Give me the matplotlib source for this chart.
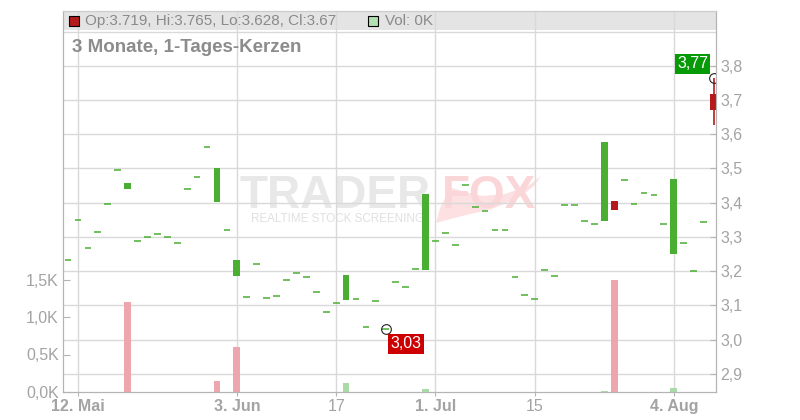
import matplotlib
matplotlib.use("Agg")
import matplotlib.pyplot as plt
from matplotlib.patches import Rectangle, Polygon

plt.rcParams['font.family'] = ['Liberation Sans', 'DejaVu Sans']

# daily candles, 9 May .. 8 Aug (index = trading day)
opens = [3.232, 3.349, 3.267, 3.313, 3.395, 3.495, 3.440, 3.287, 3.299, 3.308,
         3.299, 3.281, 3.439, 3.474, 3.562, 3.403, 3.319, 3.187, 3.123, 3.220,
         3.120, 3.126, 3.173, 3.194, 3.182, 3.138, 3.080, 3.106, 3.116, 3.118,
         3.036, 3.112, 3.030, 3.167, 3.153, 3.205, 3.203, 3.287, 3.311, 3.275,
         3.451, 3.387, 3.375, 3.319, 3.319, 3.182, 3.129, 3.118, 3.202, 3.185,
         3.392, 3.392, 3.346, 3.337, 3.347, 3.406, 3.465, 3.395, 3.427, 3.422,
         3.337, 3.251, 3.281, 3.199, 3.343, 3.719]
closes = [3.232, 3.349, 3.267, 3.313, 3.395, 3.495, 3.457, 3.287, 3.299, 3.308,
          3.299, 3.281, 3.439, 3.474, 3.562, 3.500, 3.319, 3.232, 3.123, 3.220,
          3.120, 3.126, 3.173, 3.194, 3.182, 3.138, 3.080, 3.106, 3.189, 3.118,
          3.036, 3.112, 3.030, 3.167, 3.153, 3.205, 3.425, 3.287, 3.311, 3.275,
          3.451, 3.387, 3.375, 3.319, 3.319, 3.182, 3.129, 3.118, 3.202, 3.185,
          3.392, 3.392, 3.346, 3.337, 3.577, 3.380, 3.465, 3.395, 3.427, 3.422,
          3.337, 3.469, 3.281, 3.199, 3.343, 3.670]
last_high = 3.765
last_low = 3.628
# volume in thousands
volumes = [0, 0, 0, 0, 0, 0, 1.20, 0, 0, 0,
           0, 0, 0, 0, 0, 0.15, 0, 0.60, 0, 0,
           0, 0, 0, 0, 0, 0, 0, 0, 0.12, 0,
           0, 0, 0, 0, 0, 0, 0.04, 0, 0, 0,
           0, 0, 0, 0, 0, 0, 0, 0, 0, 0,
           0, 0, 0, 0, 0.01, 1.50, 0, 0, 0, 0,
           0, 0.06, 0, 0, 0, 0]

tick_pos = [1, 17, 27, 37, 47, 61]
tick_labels = ["12. Mai", "3. Jun", "17", "1. Jul", "15", "4. Aug"]
tick_bold = [True, True, False, True, False, True]
price_ticks = [2.9, 3.0, 3.1, 3.2, 3.3, 3.4, 3.5, 3.6, 3.7, 3.8]
vol_ticks = [0, 0.5, 1.0, 1.5]

highs = [max(o, c) for o, c in zip(opens, closes)]
lows = [min(o, c) for o, c in zip(opens, closes)]
highs[-1] = last_high
lows[-1] = last_low

GREEN = "#4aae33"
RED = "#b51a1a"
PINK = "#eea6ae"
LGREEN = "#aadba6"
GRID = "#d9d9d9"
AXC = "#b4b4b4"
TXT = "#a3a3a3"

W, H = 800, 420
fig = plt.figure(figsize=(8, 4.2), dpi=100)
ax = fig.add_axes([63 / W, 1 - 392 / H, (716 - 63) / W, (392 - 11) / H])
ax.patch.set_visible(False)
ax.set_xlim(-0.505, 65.25)
ax.set_ylim(2.8465, 3.9605)
vol = ax.twinx()
vol.set_ylim(0, 5.08)


def fx(px):
    return px / W


def fy(py):
    return 1 - py / H


# header band
ax.add_patch(Rectangle((0, 0.95), 1, 0.05, transform=ax.transAxes,
                       facecolor="#e4e4e4", edgecolor="none", zorder=0.5))

for t in price_ticks + [3.9]:
    ax.axhline(t, color=GRID, lw=1, zorder=1)
for t in tick_pos:
    ax.axvline(t, color=GRID, lw=1, zorder=1)

# watermark
ax.text(fx(240), fy(208), "TRADER", transform=fig.transFigure, fontsize=33,
        fontweight="bold", color="#e8e8e8", va="baseline", zorder=0.8)
ax.text(fx(442), fy(208), "FOX", transform=fig.transFigure, fontsize=33,
        fontweight="bold", color="#fbd6d9", va="baseline", zorder=0.8)
ax.text(fx(251), fy(219), "REALTIME STOCK SCREENING", transform=fig.transFigure,
        fontsize=8.4, color="#e0e0e0", va="center", zorder=0.8)
tail = [(436, 223), (462, 216), (492, 209), (518, 198), (534, 186), (541, 176),
        (528, 186), (505, 194), (482, 196), (462, 191), (452, 188), (446, 196),
        (440, 208)]
ax.add_patch(Polygon([(fx(x), fy(y)) for x, y in tail], closed=True,
                     transform=fig.transFigure, facecolor="#fde0e2",
                     edgecolor="none", zorder=0.7))

# candles
for i, (o, c) in enumerate(zip(opens, closes)):
    col = GREEN if c >= o else RED
    if highs[i] > max(o, c) or lows[i] < min(o, c):
        ax.vlines(i, lows[i], highs[i], color=col, lw=1.2, zorder=2.5)
    if abs(c - o) < 1e-9:
        ax.hlines(o, i - 0.34, i + 0.34, color=GREEN, lw=1.1, zorder=3)
    else:
        ax.bar(i, c - o, bottom=o, width=0.68, color=col, zorder=3)

# max / min markers
imax = highs.index(max(highs))
imin = lows.index(min(lows))
ax.plot(imax, highs[imax], "o", ms=7, mfc="none", mec="#222", mew=0.8, zorder=4)
ax.plot(imin, lows[imin], "o", ms=7, mfc="none", mec="#222", mew=0.8, zorder=4)
ax.annotate(f"{highs[imax]:.2f}".replace(".", ","), (imax, highs[imax]),
            xytext=(-15, 10), textcoords="offset points", ha="center", va="center",
            color="white", fontsize=11.5, zorder=5,
            bbox=dict(boxstyle="square,pad=0.14", fc="#079a07", ec="none"))
ax.annotate(f"{lows[imin]:.2f}".replace(".", ","), (imin, lows[imin]),
            xytext=(14.5, -10.5), textcoords="offset points", ha="center", va="center",
            color="white", fontsize=11.5, zorder=5,
            bbox=dict(boxstyle="square,pad=0.14", fc="#cc0000", ec="none"))

# volume
for i, v in enumerate(volumes):
    if v > 0:
        up = i == 0 or closes[i] >= closes[i - 1]
        vol.bar(i, v, width=0.68, color=LGREEN if up else PINK, zorder=2)

ax.yaxis.tick_right()
ax.set_yticks(price_ticks)
ax.set_yticklabels([f"{t:.1f}".replace(".", ",") for t in price_ticks])
ax.tick_params(axis="y", direction="in", length=4, color=AXC, labelcolor=TXT,
               labelsize=11.5, pad=3)
ax.set_xticks(tick_pos)
ax.set_xticklabels(tick_labels)
ax.tick_params(axis="x", direction="out", length=3, color=AXC, labelcolor=TXT,
               labelsize=11.5, pad=2)
for lab, b in zip(ax.get_xticklabels(), tick_bold):
    lab.set_fontweight("bold" if b else "normal")

vol.yaxis.tick_left()
vol.set_yticks(vol_ticks)
vol.set_yticklabels([f"{t:.1f}K".replace(".", ",") for t in vol_ticks])
vol.tick_params(axis="y", direction="in", length=5, color=AXC, labelcolor=TXT,
                labelsize=11.5, pad=3)

for a in (ax, vol):
    a.spines["top"].set_color("#cccccc")
    a.spines["left"].set_color(AXC)
    a.spines["right"].set_color(AXC)
    a.spines["bottom"].set_color(AXC)

# header legend
fig.patches.append(Rectangle((fx(69), fy(26)), 10 / W, 10 / H, transform=fig.transFigure,
                             facecolor=RED, edgecolor="black", lw=0.8, figure=fig))
fig.text(fx(85), fy(21), "Op:3.719, Hi:3.765, Lo:3.628, Cl:3.67",
         fontsize=11, color="#8a8a8a", va="center")
fig.patches.append(Rectangle((fx(368), fy(26)), 10 / W, 10 / H, transform=fig.transFigure,
                             facecolor="#b2dfb0", edgecolor="black", lw=0.8, figure=fig))
fig.text(fx(385), fy(21), "Vol: 0K", fontsize=11, color="#8a8a8a", va="center")
fig.text(fx(72), fy(48), "3 Monate, 1-Tages-Kerzen", fontsize=13.5,
         fontweight="bold", color="#8c8c8c", va="center")

fig.savefig("out.png", dpi=100, facecolor="white")
